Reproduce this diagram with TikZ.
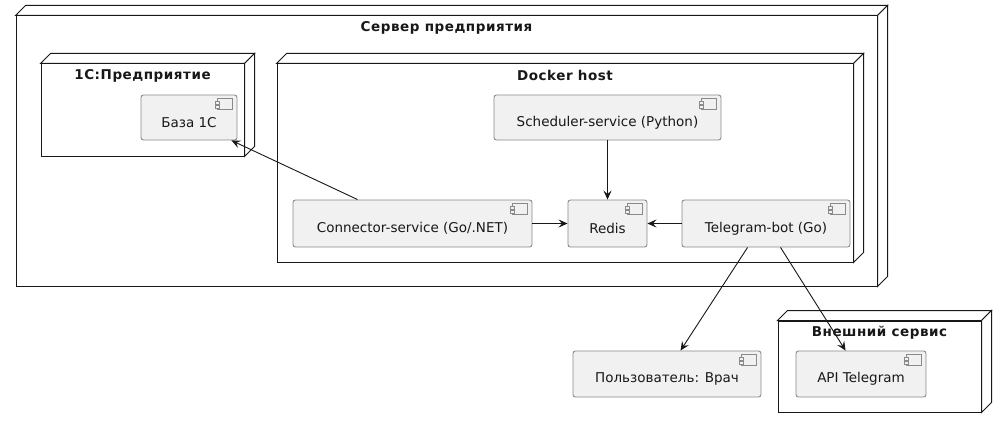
\documentclass[tikz,border=0pt]{standalone}
\usepackage{fontspec}
\setmainfont{DejaVu Sans}
\newfontfamily\titlefont{DejaVu Sans}[LetterSpace=4]
\usetikzlibrary{arrows.meta}
\definecolor{compfill}{HTML}{F1F1F1}
\definecolor{compline}{HTML}{8A8A8A}
\definecolor{ink}{HTML}{181818}
\tikzset{
  compbox/.style={draw=compline, fill=compfill, rounded corners=2.5pt, line width=0.9pt, inner sep=0pt},
  comptext/.style={inner sep=0pt, text=ink, font=\fontsize{13.5pt}{16pt}\selectfont},
  iconst/.style={draw=compline, fill=compfill, line width=0.8pt},
  nodebox/.style={draw=ink, fill=white, line width=1pt, inner sep=0pt},
  face/.style={draw=ink, fill=white, line width=1pt, line join=miter},
  nodetitle/.style={inner sep=0pt, text=ink, font=\titlefont\bfseries\fontsize{13.5pt}{16pt}\selectfont},
  arr/.style={draw=ink, line width=0.9pt, -{Stealth[length=9pt,width=8pt,inset=3.5pt]}},
}
\newcommand{\compo}[6]{%
  \node[compbox, minimum width={#4pt-#2pt}, minimum height={#5pt-#3pt}] (#1) at ({(#2+#4)/2},{(#3+#5)/2}) {};
  \draw[iconst] ([xshift=-20pt,yshift=-4pt]#1.north east) rectangle ([xshift=-5pt,yshift=-15pt]#1.north east);
  \draw[iconst] ([xshift=-22pt,yshift=-7pt]#1.north east) rectangle ([xshift=-18pt,yshift=-9.5pt]#1.north east);
  \draw[iconst] ([xshift=-22pt,yshift=-11pt]#1.north east) rectangle ([xshift=-18pt,yshift=-13.5pt]#1.north east);
  \node[comptext] (#1-t) at ([yshift=-5pt]#1.center) {#6};
}
\newcommand{\depnode}[6]{%
  \node[nodebox, minimum width={#4pt-#2pt}, minimum height={#5pt-#3pt}] (#1) at ({(#2+#4)/2},{(#3+#5)/2}) {};
  \draw[face] (#1.north west) -- ++(10,-10) -- ([shift={(10pt,10pt)}]#1.north east) -- (#1.north east) -- cycle;
  \draw[face] (#1.north east) -- ([shift={(10pt,10pt)}]#1.north east) -- ([shift={(10pt,10pt)}]#1.south east) -- (#1.south east) -- cycle;
  \node[nodetitle] (#1-title) at ([yshift=-12pt]#1.north) {#6};
}
\begin{document}
\begin{tikzpicture}[x=1pt,y=-1pt]
\useasboundingbox[fill=white] (0,0) rectangle (1007,428);
\depnode{server}{16}{16}{877}{286}{Сервер предприятия}
\depnode{onec}{41}{64}{244}{156}{1C:Предприятие}
\depnode{docker}{277}{64}{853}{262}{Docker host}
\depnode{ext}{778}{321}{981}{412}{Внешний сервис}
\compo{base}{141}{95}{237}{140}{База 1С}
\compo{sched}{494}{95}{721}{140}{Scheduler-service (Python)}
\compo{conn}{293}{200}{532}{247}{Connector-service (Go/.NET)}
\compo{redis}{568}{200}{647}{247}{Redis}
\compo{tbot}{682}{200}{850}{247}{Telegram-bot (Go)}
\compo{doctor}{573}{351}{761}{397}{Пользователь: Врач}
\compo{api}{796}{351}{926}{397}{API Telegram}
\draw[arr] ([xshift=65pt]conn.north west) -- ([xshift=-6pt]base.south east);
\draw[arr] (sched.south) -- (redis.north);
\draw[arr] (conn.east) -- (redis.west);
\draw[arr] (tbot.west) -- (redis.east);
\draw[arr] ([xshift=66pt]tbot.south west) -- ([xshift=108pt]doctor.north west);
\draw[arr] ([xshift=99pt]tbot.south west) -- ([xshift=50pt]api.north west);
\end{tikzpicture}
\end{document}
